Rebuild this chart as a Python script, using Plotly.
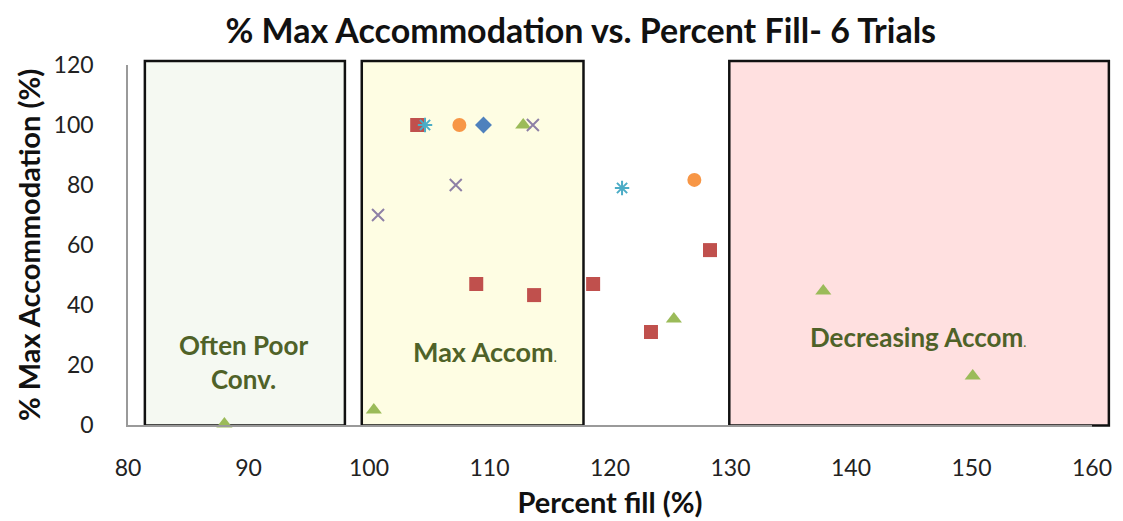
import plotly.graph_objects as go

# ---- data ----
diamond_x = [109.5]
diamond_y = [100]
square_x = [104.0, 108.9, 113.7, 118.6, 123.4, 128.3]
square_y = [100, 47, 43.3, 47, 31, 58.3]
triangle_x = [88.0, 100.4, 112.8, 125.3, 137.7, 150.1]
triangle_y = [0.3, 5, 100, 35.3, 44.7, 16.3]
cross_x = [100.75, 107.2, 113.6]
cross_y = [70, 80, 100]
star_x = [104.65, 121.0]
star_y = [100, 79]
circle_x = [107.5, 127.0]
circle_y = [100, 81.7]

x_ticks = [80, 90, 100, 110, 120, 130, 140, 150, 160]
y_ticks = [0, 20, 40, 60, 80, 100, 120]

X_MIN, X_MAX = 80, 160
Y_MIN, Y_MAX = 0, 120

FONT = "Lato"
TEXT_GREEN = "#4F6228"

fig = go.Figure()

# region boxes (paper coordinates derived from axis values)
def px(v):
    return (v - X_MIN) / (X_MAX - X_MIN)

def py(v):
    return (v - Y_MIN) / (Y_MAX - Y_MIN)

boxes = [
    (81.4, 98.0, "#F5F9F2"),
    (99.4, 117.8, "#FEFDE3"),
    (129.9, 161.4, "#FFE0E0"),
]
for x0, x1, fill in boxes:
    fig.add_shape(type="rect", xref="paper", yref="paper",
                  x0=px(x0), x1=px(x1), y0=py(-0.2), y1=py(121.3),
                  fillcolor=fill, line=dict(color="#111111", width=2.5),
                  layer="below")

def add(xs, ys, symbol, color, size, lw=0, lc=None):
    fig.add_trace(go.Scatter(
        x=xs, y=ys, mode="markers",
        marker=dict(symbol=symbol, color=color, size=size,
                    line=dict(width=lw, color=lc if lc else color)),
        showlegend=False, cliponaxis=False))

add(diamond_x, diamond_y, "diamond", "#4F81BD", 13)
add(square_x, square_y, "square", "#C0504D", 14)
add(triangle_x, triangle_y, "triangle-up", "#9BBB59", 14)
add(cross_x, cross_y, "x-thin-open", "#8E80A6", 12, 2)
add(star_x, star_y, "asterisk-open", "#4BACC6", 12, 2)
add(circle_x, circle_y, "circle", "#F79646", 14)

# labels
fig.add_annotation(x=89.6, y=21, xref="x", yref="y",
                   text="<b>Often Poor<br>Conv.</b>", showarrow=False,
                   font=dict(family=FONT, size=26, color=TEXT_GREEN))
fig.add_annotation(x=109.6, y=24.5, xref="x", yref="y",
                   text="<b>Max Accom</b><span style='font-size:13px'>.</span>",
                   showarrow=False,
                   font=dict(family=FONT, size=27, color=TEXT_GREEN))
fig.add_annotation(x=145.6, y=29.5, xref="x", yref="y",
                   text="<b>Decreasing Accom</b><span style='font-size:13px'>.</span>",
                   showarrow=False,
                   font=dict(family=FONT, size=26, color=TEXT_GREEN))

fig.update_layout(
    width=1123, height=521,
    margin=dict(l=120, r=39, t=57, b=104),
    paper_bgcolor="white", plot_bgcolor="white",
    title=dict(text="<b>% Max Accommodation vs. Percent Fill- 6 Trials</b>",
               x=0.51, xanchor="center", y=0.955, yanchor="middle",
               font=dict(family=FONT, size=34, color="#111111")),
    font=dict(family=FONT, color="#222222"),
    xaxis=dict(range=[X_MIN, X_MAX], tickvals=x_ticks, showgrid=False,
               zeroline=False, showline=True, linecolor="#9A9A9A", linewidth=1.5,
               ticks="", ticklabelstandoff=22,
               tickfont=dict(family=FONT, size=23, color="#222222"),
               title=dict(text="<b>Percent fill (%)</b>", standoff=12,
                          font=dict(family=FONT, size=29, color="#111111"))),
    yaxis=dict(range=[Y_MIN, Y_MAX], tickvals=y_ticks, showgrid=False,
               zeroline=False, showline=True, linecolor="#9A9A9A", linewidth=1.5,
               ticks="", ticklabelstandoff=28,
               tickfont=dict(family=FONT, size=23, color="#222222"),
               title=dict(text="<b>% Max Accommodation (%)</b>", standoff=4,
                          font=dict(family=FONT, size=29, color="#111111"))),
)

fig.write_html("out.html")
